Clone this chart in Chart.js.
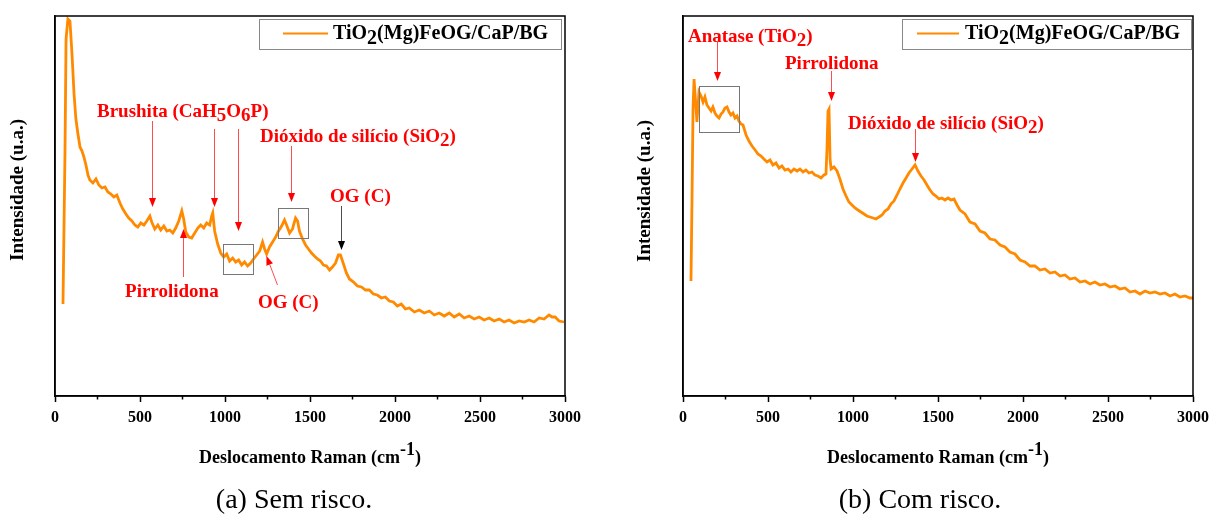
<!DOCTYPE html>
<html>
<head>
<meta charset="utf-8">
<title>Espectros Raman</title>
<script src="https://cdn.jsdelivr.net/npm/chart.js@4.4.1/dist/chart.umd.min.js"></script>
<style>
  html, body { margin: 0; padding: 0; background: #fff; }
  #wrap { position: relative; width: 1212px; height: 516px; overflow: hidden; }
  .panel { position: absolute; top: 0; width: 606px; height: 516px; }
  .panel canvas { display: block; }
  .caption {
    position: absolute; top: 483px; line-height: 30px;
    font: 28px 'Liberation Serif', 'Times New Roman', serif;
    transform: translateX(-50%); white-space: nowrap; color: #000;
  }
</style>
</head>
<body>
<div id="wrap">
  <div class="panel" style="left:0"><canvas id="chartA" width="606" height="516"></canvas></div>
  <div class="panel" style="left:606px"><canvas id="chartB" width="606" height="516"></canvas></div>
  <div class="caption" style="left:294px">(a) Sem risco.</div>
  <div class="caption" style="left:920px">(b) Com risco.</div>
</div>
<script>
// ========================================
// Raman spectra - TiO2(Mg)FeOG/CaP/BG coating
// ========================================

const SERIF = "'Liberation Serif', 'Times New Roman', serif";
const ORANGE = '#FF8A00';
const RED = '#FF0000';

const seriesLabel = 'TiO_2(Mg)FeOG/CaP/BG';
const xTicks = [0, 500, 1000, 1500, 2000, 2500, 3000];
const xMinor = [250, 750, 1250, 1750, 2250, 2750];

// (a) without scratch
const ramanA = [47, 59, 65, 76, 88, 100, 112, 123, 135, 147,
  159, 170, 182, 194, 205, 223, 241, 258, 276, 294,
  311, 329, 346, 364, 382, 399, 417, 434, 452, 470,
  487, 505, 523, 540, 558, 569, 587, 605, 622, 640,
  658, 675, 693, 710, 728, 746, 757, 769, 787, 804,
  822, 840, 857, 875, 892, 910, 922, 928, 939, 957,
  975, 992, 1010, 1027, 1045, 1063, 1080, 1098, 1115, 1133,
  1151, 1168, 1186, 1204, 1221, 1233, 1245, 1262, 1280, 1298,
  1315, 1333, 1350, 1362, 1380, 1397, 1415, 1427, 1438, 1456,
  1474, 1491, 1509, 1526, 1544, 1562, 1579, 1597, 1615, 1632,
  1650, 1667, 1679, 1697, 1714, 1732, 1756, 1779, 1803, 1826,
  1849, 1873, 1896, 1920, 1943, 1967, 1990, 2014, 2037, 2061,
  2084, 2114, 2143, 2172, 2202, 2231, 2260, 2290, 2319, 2348,
  2378, 2407, 2436, 2466, 2495, 2524, 2554, 2583, 2613, 2642,
  2671, 2701, 2730, 2760, 2789, 2818, 2848, 2877, 2906, 2924,
  2942, 2965, 2994];
const intensityA = [92, 247, 357, 377, 375, 342, 302, 277, 262, 249,
  245, 239, 231, 221, 216, 213, 217, 211, 208, 209,
  204, 202, 199, 201, 193, 187, 182, 178, 175, 171,
  169, 173, 171, 175, 180, 174, 167, 171, 166, 170,
  165, 166, 163, 168, 175, 185, 177, 164, 159, 158,
  163, 168, 171, 168, 173, 171, 180, 183, 165, 152,
  143, 139, 142, 135, 138, 134, 136, 131, 134, 130,
  133, 137, 141, 145, 154, 147, 142, 149, 154, 159,
  165, 170, 176, 171, 163, 167, 178, 175, 165, 157,
  151, 147, 143, 140, 137, 135, 131, 130, 126, 129,
  133, 141, 141, 132, 123, 117, 114, 110, 109, 106,
  106, 102, 101, 98, 99, 95, 94, 90, 92, 87,
  88, 84, 86, 83, 85, 81, 83, 80, 83, 79,
  82, 78, 80, 77, 79, 76, 78, 75, 77, 74,
  76, 73, 75, 74, 76, 74, 78, 77, 81, 79,
  79, 75, 74];

// (b) with scratch
const ramanB = [47, 53, 59, 65, 71, 82, 88, 94, 106, 118,
  129, 141, 153, 165, 176, 188, 200, 212, 224, 235,
  247, 259, 271, 282, 294, 306, 318, 329, 341, 353,
  371, 388, 406, 424, 441, 459, 476, 494, 512, 529,
  547, 565, 582, 600, 618, 635, 653, 671, 688, 706,
  723, 741, 759, 776, 794, 812, 829, 841, 847, 853,
  859, 865, 871, 888, 906, 923, 941, 959, 976, 994,
  1012, 1029, 1047, 1065, 1082, 1100, 1118, 1135, 1153, 1171,
  1188, 1206, 1223, 1241, 1259, 1276, 1294, 1312, 1329, 1347,
  1365, 1382, 1400, 1418, 1435, 1453, 1471, 1488, 1506, 1523,
  1541, 1559, 1576, 1594, 1612, 1629, 1659, 1688, 1718, 1747,
  1776, 1806, 1835, 1865, 1894, 1923, 1953, 1982, 2012, 2041,
  2070, 2100, 2129, 2159, 2188, 2218, 2247, 2276, 2306, 2335,
  2365, 2394, 2423, 2453, 2482, 2512, 2541, 2570, 2600, 2629,
  2659, 2688, 2718, 2747, 2776, 2806, 2835, 2865, 2894, 2923,
  2953, 2982, 3000];
const intensityB = [115, 197, 287, 317, 302, 274, 289, 304, 300, 294,
  299, 291, 288, 285, 289, 283, 280, 278, 282, 284,
  288, 289, 284, 281, 283, 278, 280, 275, 272, 271,
  261, 255, 250, 246, 242, 240, 237, 234, 236, 231,
  233, 228, 230, 226, 227, 224, 227, 225, 227, 224,
  226, 223, 224, 221, 220, 218, 221, 222, 247, 285,
  287, 237, 227, 229, 225, 217, 207, 200, 194, 191,
  188, 186, 184, 182, 180, 179, 178, 177, 179, 181,
  185, 187, 192, 195, 201, 207, 213, 218, 223, 227,
  231, 225, 220, 216, 211, 206, 202, 200, 197, 198,
  196, 198, 196, 197, 191, 186, 182, 174, 172, 165,
  163, 157, 156, 151, 149, 144, 142, 136, 134, 130,
  130, 126, 127, 123, 124, 120, 121, 117, 118, 114,
  115, 112, 114, 111, 112, 109, 110, 107, 108, 104,
  105, 102, 105, 103, 104, 102, 103, 100, 102, 99,
  100, 98, 98];

// Peak labels, arrows and highlight boxes (data units: cm-1, intensity)
const notesA = [
  { text: 'Brushita (CaH_5O_6P)', x: 247, y: 284 },
  { text: 'Pirrolidona', x: 412, y: 104 },
  { text: 'Dióxido de silício (SiO_2)', x: 1206, y: 259 },
  { text: 'OG (C)', x: 1194, y: 93 },
  { text: 'OG (C)', x: 1618, y: 199 }
];
const arrowsA = [
  { from: [571, 275], to: [571, 189], color: RED },
  { from: [935, 267], to: [935, 189], color: RED },
  { from: [1076, 267], to: [1076, 165], color: RED },
  { from: [753, 119], to: [753, 167], color: RED },
  { from: [1388, 250], to: [1388, 194], color: RED },
  { from: [1306, 111], to: [1241, 140], color: RED },
  { from: [1682, 190], to: [1682, 146], color: '#000' }
];
const boxesA = [
  { x: [988, 1165], y: [122, 152] },
  { x: [1312, 1488], y: [158, 188] }
];

const notesB = [
  { text: 'Anatase (TiO_2)', x: 29, y: 359 },
  { text: 'Pirrolidona', x: 600, y: 332 },
  { text: 'Dióxido de silício (SiO_2)', x: 971, y: 272 }
];
const arrowsB = [
  { from: [200, 354], to: [200, 315], color: RED },
  { from: [871, 325], to: [871, 295], color: RED },
  { from: [1365, 267], to: [1365, 234], color: RED }
];
const boxesB = [
  { x: [94, 329], y: [264, 310] }
];

// Split "TiO_2" / "cm^{-1}" into normal, subscript and superscript runs
function parseRich(str) {
  const runs = [];
  let buf = '';
  let i = 0;
  while (i < str.length) {
    const c = str[i];
    if (c === '_' || c === '^') {
      if (buf) { runs.push({ t: buf, s: 0 }); buf = ''; }
      let t;
      if (str[i + 1] === '{') {
        const end = str.indexOf('}', i);
        t = str.slice(i + 2, end);
        i = end + 1;
      } else {
        t = str[i + 1];
        i += 2;
      }
      runs.push({ t, s: c === '_' ? 1 : -1 });
    } else {
      buf += c;
      i++;
    }
  }
  if (buf) runs.push({ t: buf, s: 0 });
  return runs;
}

function drawRich(ctx, str, x, y, size, color, align) {
  const runs = parseRich(str);
  ctx.font = `bold ${size}px ${SERIF}`;
  ctx.textBaseline = 'middle';
  ctx.textAlign = 'left';
  ctx.fillStyle = color;
  const width = runs.reduce((w, r) => w + ctx.measureText(r.t).width, 0);
  let cx = align === 'center' ? x - width / 2 : x;
  runs.forEach(r => {
    const dy = r.s === 1 ? size * 0.24 : (r.s === -1 ? -size * 0.42 : 0);
    ctx.fillText(r.t, cx, y + dy);
    cx += ctx.measureText(r.t).width;
  });
}

function drawArrow(ctx, x1, y1, x2, y2, color) {
  const ang = Math.atan2(y2 - y1, x2 - x1);
  const len = 9, half = 3.5;
  const bx = x2 - Math.cos(ang) * len;
  const by = y2 - Math.sin(ang) * len;
  ctx.strokeStyle = color;
  ctx.globalAlpha = 0.7;
  ctx.lineWidth = 1;
  ctx.beginPath();
  ctx.moveTo(x1, y1);
  ctx.lineTo(bx, by);
  ctx.stroke();
  ctx.globalAlpha = 1;
  ctx.fillStyle = color;
  ctx.beginPath();
  ctx.moveTo(x2, y2);
  ctx.lineTo(bx + Math.sin(ang) * half, by - Math.cos(ang) * half);
  ctx.lineTo(bx - Math.sin(ang) * half, by + Math.cos(ang) * half);
  ctx.closePath();
  ctx.fill();
}

// Frame, minor ticks, axis titles, legend and peak annotations
function decorPlugin(panel) {
  return {
    id: 'ramanDecor',
    afterDraw(chart) {
      const { ctx, chartArea: a, scales: { x, y } } = chart;
      ctx.save();

      // highlight boxes
      ctx.strokeStyle = '#777';
      ctx.lineWidth = 1;
      panel.boxes.forEach(b => {
        const x1 = x.getPixelForValue(b.x[0]), x2 = x.getPixelForValue(b.x[1]);
        const y1 = y.getPixelForValue(b.y[1]), y2 = y.getPixelForValue(b.y[0]);
        ctx.strokeRect(Math.round(x1) + 0.5, Math.round(y1) + 0.5, Math.round(x2 - x1), Math.round(y2 - y1));
      });

      // arrows
      panel.arrows.forEach(ar => {
        drawArrow(ctx,
          Math.round(x.getPixelForValue(ar.from[0])) + 0.5, y.getPixelForValue(ar.from[1]),
          Math.round(x.getPixelForValue(ar.to[0])) + 0.5, y.getPixelForValue(ar.to[1]), ar.color);
      });

      // labels
      panel.notes.forEach(n => {
        drawRich(ctx, n.text, x.getPixelForValue(n.x), y.getPixelForValue(n.y), 19, RED, 'left');
      });

      // minor ticks on the bottom axis
      ctx.strokeStyle = '#000';
      ctx.lineWidth = 1.5;
      xMinor.forEach(v => {
        const px = x.getPixelForValue(v);
        ctx.beginPath();
        ctx.moveTo(px, a.bottom);
        ctx.lineTo(px, a.bottom + 3.5);
        ctx.stroke();
      });

      // plot frame
      ctx.strokeRect(a.left, a.top, a.right - a.left, a.bottom - a.top);

      // legend
      const lg = panel.legend;
      ctx.fillStyle = '#fff';
      ctx.fillRect(lg.x, lg.y, lg.w, lg.h);
      ctx.strokeStyle = '#888';
      ctx.lineWidth = 1;
      ctx.strokeRect(lg.x + 0.5, lg.y + 0.5, lg.w, lg.h);
      ctx.strokeStyle = ORANGE;
      ctx.lineWidth = 2;
      ctx.beginPath();
      ctx.moveTo(lg.s1, lg.y + 14.5);
      ctx.lineTo(lg.s2, lg.y + 14.5);
      ctx.stroke();
      drawRich(ctx, chart.data.datasets[0].label, lg.tx, lg.y + 15, 20, '#000', 'left');

      // axis titles
      drawRich(ctx, 'Deslocamento Raman (cm^{-1})', (a.left + a.right) / 2, 458, 18, '#000', 'center');
      ctx.translate(panel.yTitle[0], panel.yTitle[1]);
      ctx.rotate(-Math.PI / 2);
      drawRich(ctx, 'Intensidade (u.a.)', 0, 0, 19, '#000', 'center');

      ctx.restore();
    }
  };
}

function buildChart(canvasId, raman, intensity, panel) {
  return new Chart(document.getElementById(canvasId), {
    type: 'line',
    data: {
      datasets: [{
        label: seriesLabel,
        data: raman.map((r, i) => ({ x: r, y: intensity[i] })),
        borderColor: ORANGE,
        borderWidth: 2.8,
        pointRadius: 0,
        tension: 0,
        fill: false
      }]
    },
    options: {
      responsive: false,
      animation: false,
      events: [],
      layout: { padding: { top: 16, right: panel.padRight, left: 0, bottom: 0 } },
      plugins: { legend: { display: false }, tooltip: { enabled: false } },
      scales: {
        x: {
          type: 'linear',
          min: xTicks[0],
          max: xTicks[xTicks.length - 1],
          // keep the plot width fixed; the last label may overhang the padding
          afterFit: s => { s.height = 120; s.paddingLeft = 0; s.paddingRight = 0; },
          afterBuildTicks: s => { s.ticks = xTicks.map(v => ({ value: v })); },
          ticks: {
            autoSkip: false,
            maxRotation: 0,
            padding: 6,
            color: '#000',
            font: { family: SERIF, size: 16, weight: 'bold' },
            callback: v => String(v)
          },
          grid: { display: true, drawOnChartArea: false, tickLength: 6, tickWidth: 1.5, tickColor: '#000' },
          border: { display: true, color: '#000', width: 1.5 }
        },
        y: {
          min: 0,
          max: 380,
          afterFit: s => { s.width = panel.axisWidth; },
          ticks: { display: false },
          grid: { display: false },
          border: { display: true, color: '#000', width: 1.5 }
        }
      }
    },
    plugins: [decorPlugin(panel)]
  });
}

buildChart('chartA', ramanA, intensityA, {
  axisWidth: 55,
  padRight: 41,
  yTitle: [18, 190],
  legend: { x: 259, y: 19, w: 302, h: 30, s1: 283, s2: 328, tx: 333 },
  notes: notesA,
  arrows: arrowsA,
  boxes: boxesA
});

buildChart('chartB', ramanB, intensityB, {
  axisWidth: 77,
  padRight: 19,
  yTitle: [39, 191],
  legend: { x: 296, y: 19, w: 289, h: 30, s1: 311, s2: 353, tx: 359 },
  notes: notesB,
  arrows: arrowsB,
  boxes: boxesB
});
</script>
</body>
</html>
